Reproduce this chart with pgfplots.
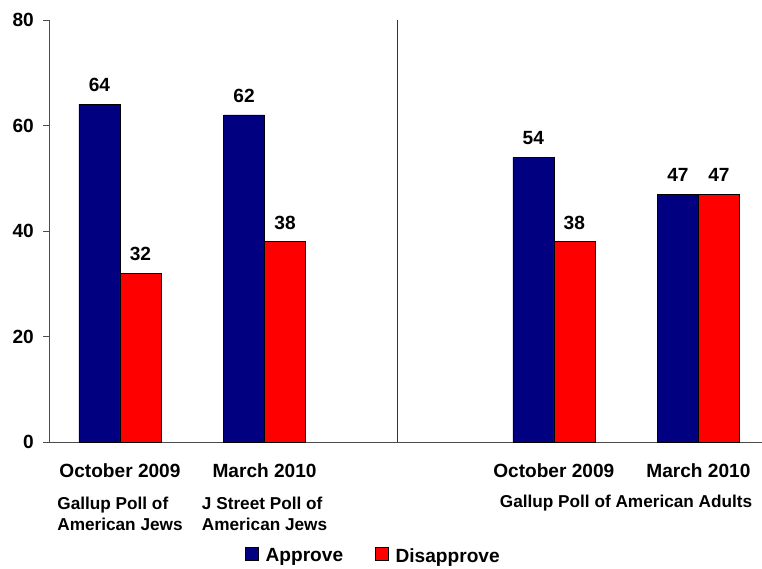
\documentclass[border=0pt]{standalone}
\usepackage{pgfplots}
\pgfplotsset{compat=1.18}
\usepackage{fontspec}
\setmainfont{Liberation Sans}
\definecolor{approve}{HTML}{000080}
\definecolor{disapprove}{HTML}{FF0000}
\newcommand{\bigfont}{\bfseries\fontsize{19.1}{20}\selectfont}
\newcommand{\subfont}{\bfseries\fontsize{17.2}{21}\selectfont}
\begin{document}
\begin{tikzpicture}[x=1pt,y=1pt]
\useasboundingbox (0,0) rectangle (762,568);
\begin{axis}[
    at={(49pt,126pt)}, anchor=south west,
    scale only axis, width=713pt, height=422pt,
    xmin=-0.491, xmax=4.44, ymin=0, ymax=80,
    ybar=0pt, bar width=41pt,
    axis x line*=bottom, axis y line*=left,
    axis line style={black!70, -},
    xtick=\empty, ytick={0,20,40,60,80},
    tick align=outside, major tick length=6pt, tick style={black!70},
    /pgf/number format/assume math mode=true,
    yticklabel style={font=\bigfont, inner sep=0pt, xshift=-9pt},
    nodes near coords,
    nodes near coords style={font=\bigfont, anchor=south, inner sep=0pt, yshift=12pt},
    legend columns=2,
    legend image code/.code={\draw[#1] (0pt,-4pt) rectangle (12.5pt,8.5pt);},
    legend style={draw=none, at={(axis description cs:0.455,-0.27)}, anchor=center,
                  font=\bigfont, inner sep=0pt,
                  /tikz/every odd column/.append style={column sep=5.5pt},
                  /tikz/every even column/.append style={column sep=30pt}},
    clip=false,
]
\addplot[fill=approve, draw=black, line width=0.5pt] coordinates {(0,64) (1,62) (3,54) (4,47)};
\addlegendentry{Approve}
\addplot[fill=disapprove, draw=black, line width=0.5pt] coordinates {(0,32) (1,38) (3,38) (4,47)};
\addlegendentry{Disapprove}
\draw[black!80, line width=0.8pt] (axis cs:1.916,0) -- (axis cs:1.916,80);
\node[font=\bigfont, inner sep=0pt, yshift=-29pt] at (axis cs:0,0) {October 2009};
\node[font=\bigfont, inner sep=0pt, yshift=-29pt] at (axis cs:1,0) {March 2010};
\node[font=\bigfont, inner sep=0pt, yshift=-29pt] at (axis cs:3,0) {October 2009};
\node[font=\bigfont, inner sep=0pt, yshift=-29pt] at (axis cs:4,0) {March 2010};
\node[font=\subfont, inner sep=0pt, align=left, anchor=north, yshift=-54.5pt] at (axis cs:0,0) {Gallup Poll of\\American Jews};
\node[font=\subfont, inner sep=0pt, align=left, anchor=north, yshift=-54.5pt] at (axis cs:1,0) {J Street Poll of\\American Jews};
\node[font=\subfont, inner sep=0pt, yshift=-61pt] at (axis cs:3.5,0) {Gallup Poll of American Adults};
\end{axis}
\end{tikzpicture}
\end{document}
